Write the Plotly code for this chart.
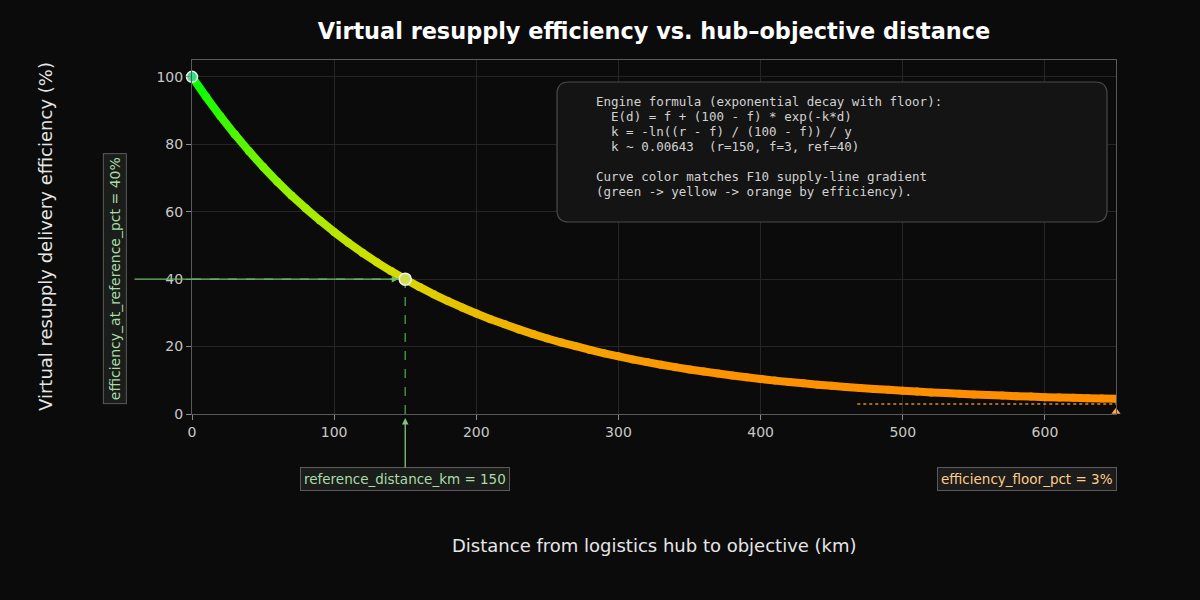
import plotly.graph_objects as go
from plotly.colors import sample_colorscale

# distance from hub (km) and efficiency (%)
distance_km = [0, 10, 20, 30, 40, 50, 60, 70, 80, 90,
               100, 110, 120, 130, 140, 150, 160, 170, 180, 190,
               200, 210, 220, 230, 240, 250, 260, 270, 280, 290,
               300, 310, 320, 330, 340, 350, 360, 370, 380, 390,
               400, 410, 420, 430, 440, 450, 460, 470, 480, 490,
               500, 510, 520, 530, 540, 550, 560, 570, 580, 590,
               600, 610, 620, 630, 640, 650]
efficiency_pct = [100.0, 94.0, 88.3, 83.0, 78.0, 73.3, 68.9, 64.8, 61.0, 57.4,
                  54.0, 50.8, 47.8, 45.0, 42.4, 40.0, 37.7, 35.5, 33.5, 31.6,
                  29.8, 28.1, 26.6, 25.1, 23.7, 22.4, 21.2, 20.1, 19.0, 18.0,
                  17.1, 16.2, 15.4, 14.6, 13.9, 13.2, 12.6, 12.0, 11.4, 10.9,
                  10.4, 9.9, 9.5, 9.1, 8.7, 8.4, 8.0, 7.7, 7.4, 7.2,
                  6.9, 6.7, 6.4, 6.2, 6.0, 5.8, 5.6, 5.5, 5.3, 5.2,
                  5.0, 4.9, 4.8, 4.7, 4.6, 4.5]

ref_distance = 150
ref_efficiency = 40
floor_pct = 3
floor_from_km = 468
max_km = 650

info_lines = [
    "Engine formula (exponential decay with floor):",
    "  E(d) = f + (100 - f) * exp(-k*d)",
    "  k = -ln((r - f) / (100 - f)) / y",
    "  k ~ 0.00643  (r=150, f=3, ref=40)",
    "",
    "Curve color matches F10 supply-line gradient",
    "(green -> yellow -> orange by efficiency).",
]

BG = "#0b0b0b"
grad = [[0.0, "#ff8c00"], [0.1, "#fc9400"], [0.25, "#eeb600"],
        [0.4, "#d6dc00"], [0.65, "#98f000"], [1.0, "#00ff00"]]

# plot area in pixels: x 192..1116, y 60..414
L, R, T, B = 192, 84, 60, 186
PW, PH = 1200 - L - R, 600 - T - B


def px(x):
    return (x - L) / PW


def py(y):
    return (T + PH - y) / PH


def eff_color(v):
    return sample_colorscale(grad, [(v - floor_pct) / (100 - floor_pct)])[0]


fig = go.Figure()

# gradient curve, one short segment per pair of points
for i in range(len(distance_km) - 1):
    mid = (efficiency_pct[i] + efficiency_pct[i + 1]) / 2
    fig.add_trace(go.Scatter(
        x=distance_km[i:i + 2], y=efficiency_pct[i:i + 2], mode="lines",
        line=dict(color=eff_color(mid), width=8), showlegend=False, hoverinfo="skip"))
# round off the joins
fig.add_trace(go.Scatter(
    x=distance_km, y=efficiency_pct, mode="markers",
    marker=dict(size=8, color=[eff_color(v) for v in efficiency_pct], line=dict(width=0)),
    showlegend=False, hoverinfo="skip"))

# floor marker line
fig.add_trace(go.Scatter(
    x=[floor_from_km, max_km], y=[floor_pct, floor_pct], mode="lines",
    line=dict(color="#e08a20", width=1.5, dash="dot"),
    showlegend=False, hoverinfo="skip"))

# guide lines to the reference point
fig.add_trace(go.Scatter(
    x=[ref_distance, ref_distance], y=[0, ref_efficiency], mode="lines",
    line=dict(color="#3f8f3f", width=1.5, dash="dash"),
    showlegend=False, hoverinfo="skip"))
fig.add_trace(go.Scatter(
    x=[0, ref_distance], y=[ref_efficiency, ref_efficiency], mode="lines",
    line=dict(color="#4f9f4f", width=1.2, dash="dash"),
    showlegend=False, hoverinfo="skip"))

# start and reference points
fig.add_trace(go.Scatter(
    x=[distance_km[0]], y=[efficiency_pct[0]], mode="markers",
    marker=dict(size=11, color="#2ee082", line=dict(color="#f0f0f0", width=1.5)),
    cliponaxis=False, showlegend=False, hoverinfo="skip"))
fig.add_trace(go.Scatter(
    x=[ref_distance], y=[ref_efficiency], mode="markers",
    marker=dict(size=12, color="#d2e050", line=dict(color="#f0f0f0", width=1.5)),
    cliponaxis=False, showlegend=False, hoverinfo="skip"))
fig.add_trace(go.Scatter(
    x=[max_km], y=[0.7], mode="markers",
    marker=dict(size=8, symbol="triangle-up", color="#ffa84a"),
    cliponaxis=False, showlegend=False, hoverinfo="skip"))

# rounded box behind the formula notes
x0, x1, y0, y1, r = 557, 1107, 82, 222, 12
path = (f"M {px(x0 + r)} {py(y0)} L {px(x1 - r)} {py(y0)} "
        f"Q {px(x1)} {py(y0)} {px(x1)} {py(y0 + r)} L {px(x1)} {py(y1 - r)} "
        f"Q {px(x1)} {py(y1)} {px(x1 - r)} {py(y1)} L {px(x0 + r)} {py(y1)} "
        f"Q {px(x0)} {py(y1)} {px(x0)} {py(y1 - r)} L {px(x0)} {py(y0 + r)} "
        f"Q {px(x0)} {py(y0)} {px(x0 + r)} {py(y0)} Z")
fig.add_shape(type="path", path=path, xref="paper", yref="paper",
              fillcolor="#141414", line=dict(color="#4a4a4a", width=1.2), layer="above")

for n, line in enumerate(info_lines):
    if not line:
        continue
    fig.add_annotation(
        text=line.replace(" ", "&nbsp;"), xref="paper", yref="paper",
        x=px(594), y=py(101 + 15 * n), xanchor="left", yanchor="middle",
        showarrow=False, font=dict(family="DejaVu Sans Mono", size=12.5, color="#d2d2d2"))

# reference annotations
fig.add_annotation(
    x=ref_distance, y=ref_efficiency, ax=133 - (L + ref_distance * PW / max_km), ay=0,
    text="", showarrow=True, arrowhead=2, arrowsize=1, arrowwidth=1.3,
    arrowcolor="#6cbf6c", standoff=7)
fig.add_annotation(
    xref="paper", yref="y", x=px(115), y=ref_efficiency, showarrow=False,
    xanchor="center", yanchor="middle",
    text="efficiency_at_reference_pct = 40%", textangle=-90,
    font=dict(family="DejaVu Sans", size=14, color="#a8dca8"),
    bgcolor="#1a1d1a", bordercolor="#5a5a5a", borderwidth=1, borderpad=3)
fig.add_annotation(
    xref="x", yref="paper", x=ref_distance, y=py(418), ax=0, ay=61,
    text="reference_distance_km = 150", showarrow=True, arrowhead=2,
    arrowsize=1, arrowwidth=1.3, arrowcolor="#7fc47f",
    font=dict(family="DejaVu Sans", size=13.5, color="#a8dca8"),
    bgcolor="#1a1d1a", bordercolor="#5a5a5a", borderwidth=1, borderpad=3)
fig.add_annotation(
    xref="paper", yref="paper", x=px(1027), y=py(479), showarrow=False,
    xanchor="center", yanchor="middle",
    text="efficiency_floor_pct = 3%",
    font=dict(family="DejaVu Sans", size=13.5, color="#ffcc88"),
    bgcolor="#1c1c1c", bordercolor="#5a5a5a", borderwidth=1, borderpad=3)

# axis titles
fig.add_annotation(
    xref="paper", yref="paper", x=0.5, y=py(545), showarrow=False,
    xanchor="center", yanchor="middle",
    text="Distance from logistics hub to objective (km)",
    font=dict(family="DejaVu Sans", size=18, color="#e6e6e6"))
fig.add_annotation(
    xref="paper", yref="paper", x=px(45), y=py(237), showarrow=False, textangle=-90,
    xanchor="center", yanchor="middle",
    text="Virtual resupply delivery efficiency (%)",
    font=dict(family="DejaVu Sans", size=18, color="#e6e6e6"))

axis_style = dict(showline=True, mirror=True, linecolor="#5a5a5a", linewidth=1,
                  gridcolor="#262626", gridwidth=1, zeroline=False,
                  ticks="outside", ticklen=5, tickcolor="#8a8a8a",
                  tickfont=dict(family="DejaVu Sans", size=14, color="#c8c8c8"))

fig.update_layout(
    width=1200, height=600,
    margin=dict(l=L, r=R, t=T, b=B),
    paper_bgcolor=BG, plot_bgcolor=BG,
    title=dict(text="<b>Virtual resupply efficiency vs. hub\u2013objective distance</b>",
               x=0.5, xref="paper", y=1 - 31 / 600, yanchor="middle",
               font=dict(family="DejaVu Sans", size=22.4, color="#ffffff")),
    xaxis=dict(range=[0, max_km], tickvals=[0, 100, 200, 300, 400, 500, 600], **axis_style),
    yaxis=dict(range=[0, 105], tickvals=[0, 20, 40, 60, 80, 100], **axis_style),
)

fig.write_html("out.html", config={"displayModeBar": False},
               post_script="document.body.style.margin='0';")
